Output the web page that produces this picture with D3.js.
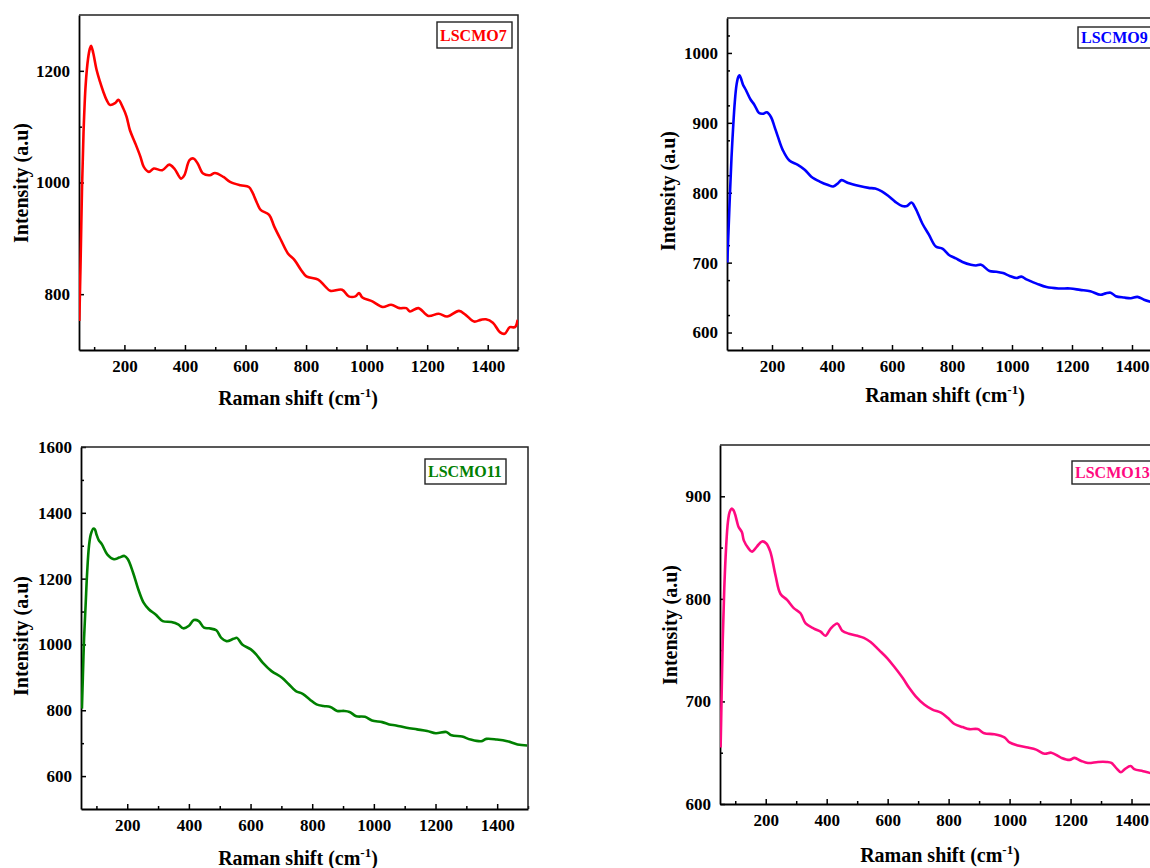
<!DOCTYPE html>
<html>
<head>
<meta charset="utf-8">
<script src="https://cdn.jsdelivr.net/npm/d3@7"></script>
<style>
  html, body { margin: 0; padding: 0; background: #fff; }
  svg { display: block; }
  text { font-family: 'Liberation Serif', 'Times New Roman', serif; font-weight: bold; fill: #000; }
</style>
</head>
<body>
<svg id="fig" width="1150" height="868"></svg>
<script>
// ---- Raman spectra (shift in cm-1, intensity in a.u.) ----
const shift7 = [51,55,60,65,72,80,86,90,97,108,119,130,141,152,169,180,196,207,218,236,253,264,281,297,325,348,365,387,398,415,428,442,460,482,499,527,549,583,611,622,639,650,678,695,717,740,762,784,801,840,863,880,919,941,963,975,986,1019,1053,1081,1109,1131,1143,1171,1204,1238,1266,1305,1327,1355,1377,1394,1417,1440,1456,1473,1490,1499];
const intensity7 = [752,850,990,1090,1175,1222,1240,1245,1232,1202,1181,1163,1148,1139,1142,1148,1133,1118,1094,1070,1046,1028,1019,1025,1022,1032,1025,1007,1013,1040,1043,1034,1016,1013,1017,1010,1001,995,992,983,962,951,942,921,897,873,861,843,832,826,814,806,808,796,796,802,794,787,777,781,775,775,769,775,761,765,760,770,763,751,754,755,749,732,729,741,741,754];

const shift9 = [51,55,60,65,70,76,82,88,92,97,103,113,129,141,157,169,183,197,208,219,236,258,286,309,331,359,387,404,421,432,454,488,522,544,566,589,611,634,650,665,678,701,723,746,768,790,813,835,863,880,897,925,947,970,992,1015,1031,1048,1082,1115,1155,1194,1227,1261,1295,1312,1329,1346,1374,1396,1418,1440,1468,1500];
const intensity9 = [700,745,800,850,890,930,955,966,968,963,955,947,933,926,914,913,915,908,895,881,861,846,840,833,823,816,811,809,814,818,814,810,807,806,802,795,787,781,781,786,778,756,740,723,720,711,706,701,697,696,697,688,687,685,681,678,680,676,670,665,663,663,661,659,654,656,657,652,650,649,651,647,643,639];

const shift11 = [53,56,60,65,70,76,82,90,95,100,107,118,135,157,174,191,202,219,236,253,270,292,315,343,365,382,399,416,432,449,466,489,505,522,545,556,573,601,618,640,668,702,724,747,769,792,814,837,859,881,904,921,943,971,994,1027,1050,1072,1106,1140,1173,1201,1235,1252,1286,1314,1348,1365,1399,1433,1466,1497];
const intensity11 = [805,900,1020,1120,1220,1300,1335,1352,1350,1335,1318,1304,1274,1259,1264,1269,1259,1218,1167,1127,1107,1091,1071,1068,1061,1049,1056,1074,1071,1051,1049,1043,1020,1010,1017,1020,1000,985,970,944,919,899,879,858,850,833,818,813,810,798,798,795,782,780,769,764,757,754,747,742,737,730,734,724,720,711,706,713,711,706,696,693];

const shift13 = [52,55,59,64,70,76,82,89,95,100,106,111,122,128,144,155,171,188,202,215,232,248,270,292,314,331,358,380,396,413,435,451,473,501,522,544,572,599,621,649,671,692,720,747,775,797,819,846,868,895,917,950,983,1000,1027,1060,1087,1115,1137,1170,1197,1213,1235,1257,1290,1318,1334,1350,1365,1378,1397,1409,1438,1464,1500];
const intensity13 = [655,700,760,810,850,875,885,888,886,882,875,870,865,857,849,846,851,856,854,846,823,805,799,791,786,776,771,768,764,771,776,769,766,764,762,758,750,742,734,723,713,705,697,692,689,684,678,675,673,673,669,668,665,660,657,655,653,649,650,645,643,645,642,640,641,641,640,635,631,634,637,634,632,630,628];

// ---- tick labels ----
const shiftTicks = [200, 400, 600, 800, 1000, 1200, 1400];
const yTicks7 = [800, 1000, 1200];
const yTicks9 = [600, 700, 800, 900, 1000];
const yTicks11 = [600, 800, 1000, 1200, 1400, 1600];
const yTicks13 = [600, 700, 800, 900];

const sampleNames = ["LSCMO7", "LSCMO9", "LSCMO11", "LSCMO13"];
const sampleColors = ["#ff0000", "#0000ff", "#008000", "#ff0a80"];

// ---- panel layout ----
const panels = [
  { shift: shift7, inten: intensity7, ticks: yTicks7, yDomain: [700, 1300], yMinorStep: 100,
    box: { l: 79, r: 518, t: 15, b: 350 },
    legend: { x: 437, y: 22, w: 75, h: 26 },
    xTitle: { x: 298, y: 405 }, yTitle: { x: 28, y: 183 } },
  { shift: shift9, inten: intensity9, ticks: yTicks9, yDomain: [575, 1050], yMinorStep: 50,
    box: { l: 727, r: 1162, t: 18, b: 350 },
    legend: { x: 1078, y: 27, w: 90, h: 21 },
    xTitle: { x: 945, y: 402 }, yTitle: { x: 675, y: 191 } },
  { shift: shift11, inten: intensity11, ticks: yTicks11, yDomain: [500, 1600], yMinorStep: 100,
    box: { l: 81, r: 528, t: 447, b: 809 },
    legend: { x: 425, y: 459, w: 81, h: 25 },
    xTitle: { x: 298, y: 865 }, yTitle: { x: 28, y: 636 } },
  { shift: shift13, inten: intensity13, ticks: yTicks13, yDomain: [600, 950], yMinorStep: 50,
    box: { l: 720, r: 1162, t: 445, b: 804 },
    legend: { x: 1072, y: 461, w: 95, h: 23 },
    xTitle: { x: 940, y: 862 }, yTitle: { x: 677, y: 625 } }
];

const svg = d3.select("#fig");

panels.forEach((p, i) => {
  const color = sampleColors[i];
  const { l, r, t, b } = p.box;
  const x = d3.scaleLinear().domain([50, 1500]).range([l, r]);
  const y = d3.scaleLinear().domain(p.yDomain).range([b, t]);
  const g = svg.append("g");

  // clip region for the spectrum
  const clipId = "clip" + i;
  svg.append("clipPath").attr("id", clipId)
    .append("rect").attr("x", l).attr("y", t).attr("width", r - l).attr("height", b - t);

  // minor ticks (inward, unlabeled)
  const xMinor = d3.range(100, 1501, 200);
  const yMinor = d3.range(p.yDomain[0], p.yDomain[1] + 1, p.yMinorStep)
    .filter(v => !p.ticks.includes(v) && v > p.yDomain[0] && v < p.yDomain[1]);

  g.append("g").attr("transform", `translate(0,${b})`)
    .call(d3.axisBottom(x).tickValues(xMinor).tickSize(-3).tickSizeOuter(0).tickFormat(""))
    .call(s => s.select(".domain").remove());
  g.append("g").attr("transform", `translate(${l},0)`)
    .call(d3.axisLeft(y).tickValues(yMinor).tickSize(-3).tickSizeOuter(0).tickFormat(""))
    .call(s => s.select(".domain").remove());

  // major axes
  const xAxis = g.append("g").attr("transform", `translate(0,${b})`)
    .call(d3.axisBottom(x).tickValues(shiftTicks).tickSize(-5).tickSizeOuter(0).tickPadding(10).tickFormat(d3.format("d")));
  const yAxis = g.append("g").attr("transform", `translate(${l},0)`)
    .call(d3.axisLeft(y).tickValues(p.ticks).tickSize(-5).tickSizeOuter(0).tickPadding(9).tickFormat(d3.format("d")));

  [xAxis, yAxis].forEach(a => {
    a.selectAll("text").style("font-size", "17px").style("font-family", "'Liberation Serif','Times New Roman',serif").style("font-weight", "bold").attr("fill", "#000");
    a.select(".domain").attr("stroke", "#000").attr("stroke-width", 1.8);
  });
  g.selectAll("line").attr("stroke", "#000").attr("stroke-width", 1.5);

  // top and right frame
  g.append("path")
    .attr("d", `M${l},${t}H${r}V${b}`)
    .attr("fill", "none").attr("stroke", "#222").attr("stroke-width", 1.5);

  // spectrum
  const pts = p.shift.map((s, k) => [s, p.inten[k]]);
  g.append("path")
    .datum(pts)
    .attr("clip-path", `url(#${clipId})`)
    .attr("fill", "none")
    .attr("stroke", color)
    .attr("stroke-width", 2.6)
    .attr("stroke-linejoin", "round")
    .attr("d", d3.line().x(d => x(d[0])).y(d => y(d[1])).curve(d3.curveCatmullRom.alpha(0.5)));

  // sample label box
  g.append("rect")
    .attr("x", p.legend.x).attr("y", p.legend.y)
    .attr("width", p.legend.w).attr("height", p.legend.h)
    .attr("fill", "#fff").attr("stroke", "#222").attr("stroke-width", 1.4);
  g.append("text")
    .attr("x", p.legend.x + 3)
    .attr("y", p.legend.y + p.legend.h / 2 + 5.5)
    .style("fill", color)
    .style("font-size", "16px")
    .text(sampleNames[i]);

  // axis titles
  const xt = g.append("text")
    .attr("x", p.xTitle.x).attr("y", p.xTitle.y)
    .attr("text-anchor", "middle")
    .style("font-size", "20px");
  xt.append("tspan").text("Raman shift (cm");
  xt.append("tspan").attr("dy", -8).style("font-size", "13px").text("-1");
  xt.append("tspan").attr("dy", 8).text(")");

  g.append("text")
    .attr("transform", `translate(${p.yTitle.x},${p.yTitle.y}) rotate(-90)`)
    .attr("text-anchor", "middle")
    .style("font-size", "20px")
    .text("Intensity (a.u)");
});
</script>
</body>
</html>
